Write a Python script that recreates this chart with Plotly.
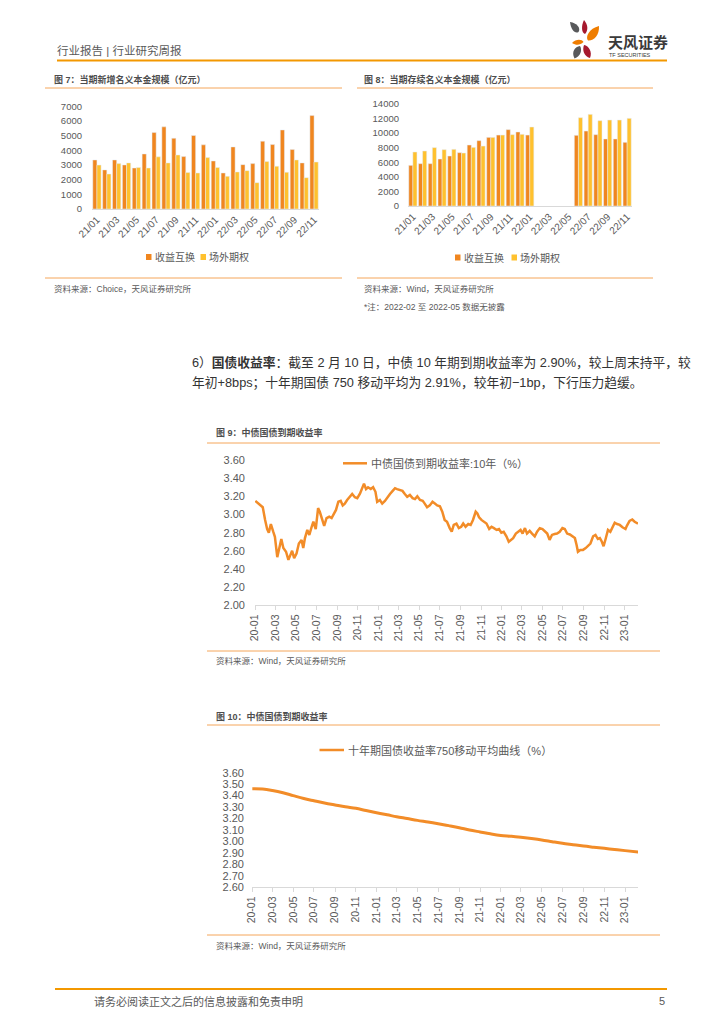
import plotly.graph_objects as go

W, H = 724, 1024
FONT = "Liberation Sans, Noto Sans CJK SC, sans-serif"
GRAY = "#595959"
AXIS = "#D9D9D9"
C_SWAP = "#F0861F"
C_OPT = "#FFC12E"
C_LINE = "#F28C28"
C_RULE = "#F5A65B"
C_HEAD = "#F39800"

# ---------------- data ----------------
months = ["21/01", "21/02", "21/03", "21/04", "21/05", "21/06", "21/07", "21/08",
          "21/09", "21/10", "21/11", "21/12", "22/01", "22/02", "22/03", "22/04",
          "22/05", "22/06", "22/07", "22/08", "22/09", "22/10", "22/11"]
month_ticks = ["21/01", "21/03", "21/05", "21/07", "21/09", "21/11",
               "22/01", "22/03", "22/05", "22/07", "22/09", "22/11"]

swap_new = [3350, 2670, 3350, 3010, 2800, 3760, 5220, 5610, 4830, 3580, 5020, 4380,
            3280, 2460, 4240, 3030, 3100, 4630, 4400, 5400, 4060, 3150, 6380]
option_new = [3000, 2390, 3100, 3150, 2830, 2800, 3560, 3150, 3690, 2490, 2460, 3510,
              2830, 2230, 2530, 2620, 1800, 3240, 2920, 2510, 3350, 2140, 3210]

swap_stock = [5580, 5810, 5810, 6450, 6860, 7320, 8370, 8970, 9420, 9740, 10480, 10160,
              9740, None, None, None, None, 9700, 10290, 9790, 9200, 9200, 8740]
option_stock = [7410, 7550, 8010, 7730, 7780, 7270, 8050, 8230, 9420, 9740, 9790, 9840,
                10840, None, None, None, None, 12120, 12580, 11710, 11800, 11800, 12030]

yield_dates = [
    "2020-01-02", "2020-01-16", "2020-01-24", "2020-01-31", "2020-02-06", "2020-02-11", "2020-02-17", "2020-02-24", "2020-02-29",
    "2020-03-07", "2020-03-13", "2020-03-19", "2020-03-25", "2020-04-02", "2020-04-09", "2020-04-14", "2020-04-20", "2020-04-26",
    "2020-05-03", "2020-05-10", "2020-05-18", "2020-05-23", "2020-05-28", "2020-06-04", "2020-06-10", "2020-06-17", "2020-06-22", "2020-06-29",
    "2020-07-06", "2020-07-11", "2020-07-18", "2020-07-24", "2020-07-31", "2020-08-08", "2020-08-15", "2020-08-22", "2020-08-28",
    "2020-09-04", "2020-09-11", "2020-09-17", "2020-09-23", "2020-09-30", "2020-10-08", "2020-10-15", "2020-10-23", "2020-10-30",
    "2020-11-07", "2020-11-14", "2020-11-19", "2020-11-25", "2020-12-01", "2020-12-09", "2020-12-16", "2020-12-23", "2020-12-28",
    "2021-01-05", "2021-01-12", "2021-01-20", "2021-01-27", "2021-02-04", "2021-02-12", "2021-02-19", "2021-02-25",
    "2021-03-05", "2021-03-13", "2021-03-20", "2021-03-27", "2021-04-04", "2021-04-12", "2021-04-19", "2021-04-26",
    "2021-05-04", "2021-05-12", "2021-05-18", "2021-05-25", "2021-06-02", "2021-06-10", "2021-06-17", "2021-06-24",
    "2021-07-02", "2021-07-09", "2021-07-16", "2021-07-23", "2021-07-31", "2021-08-06", "2021-08-12", "2021-08-20", "2021-08-27",
    "2021-09-03", "2021-09-09", "2021-09-16", "2021-09-24", "2021-10-01", "2021-10-08", "2021-10-16", "2021-10-21", "2021-10-26",
    "2021-11-02", "2021-11-09", "2021-11-17", "2021-11-25", "2021-12-02", "2021-12-09", "2021-12-17", "2021-12-24", "2021-12-31",
    "2022-01-07", "2022-01-15", "2022-01-22", "2022-01-28", "2022-02-04", "2022-02-12", "2022-02-19", "2022-02-26",
    "2022-03-04", "2022-03-11", "2022-03-17", "2022-03-25", "2022-04-01", "2022-04-09", "2022-04-16", "2022-04-24",
    "2022-05-02", "2022-05-09", "2022-05-16", "2022-05-23", "2022-05-30", "2022-06-07", "2022-06-14", "2022-06-22", "2022-06-30",
    "2022-07-07", "2022-07-14", "2022-07-22", "2022-07-29", "2022-08-06", "2022-08-11", "2022-08-15", "2022-08-22", "2022-08-30",
    "2022-09-07", "2022-09-14", "2022-09-21", "2022-09-29", "2022-10-06", "2022-10-13", "2022-10-19", "2022-10-25", "2022-10-30",
    "2022-11-05", "2022-11-12", "2022-11-19", "2022-11-25", "2022-12-02", "2022-12-09", "2022-12-17", "2022-12-25",
    "2023-01-03", "2023-01-07", "2023-01-15", "2023-01-23", "2023-01-30", "2023-02-09"]
yield_10y = [
    3.15, 3.10, 3.08, 2.94, 2.84, 2.80, 2.895, 2.81, 2.755,
    2.53, 2.63, 2.73, 2.63, 2.59, 2.50, 2.555, 2.60, 2.52,
    2.57, 2.68, 2.72, 2.63, 2.74, 2.83, 2.775, 2.865, 2.92, 2.84,
    3.07, 3.03, 2.94, 2.875, 2.96, 2.975, 2.96, 3.01, 3.05,
    3.14, 3.15, 3.10, 3.12, 3.16, 3.20, 3.225, 3.19, 3.18,
    3.23, 3.29, 3.34, 3.28, 3.30, 3.28, 3.30, 3.25, 3.14,
    3.16, 3.12, 3.15, 3.19, 3.225, 3.26, 3.29, 3.28,
    3.27, 3.26, 3.225, 3.195, 3.215, 3.18, 3.17, 3.20,
    3.16, 3.15, 3.12, 3.08, 3.10, 3.14, 3.12, 3.10,
    3.09, 3.03, 2.94, 2.92, 2.85, 2.81, 2.885, 2.90, 2.85,
    2.865, 2.90, 2.865, 2.895, 2.885, 2.94, 3.03, 3.01, 2.97,
    2.94, 2.92, 2.90, 2.84, 2.865, 2.85, 2.83, 2.84, 2.80,
    2.81, 2.76, 2.70, 2.72, 2.74, 2.79, 2.81, 2.83,
    2.79, 2.85, 2.79, 2.82, 2.79, 2.76, 2.81, 2.85,
    2.84, 2.81, 2.79, 2.72, 2.775, 2.785, 2.79, 2.81, 2.85,
    2.84, 2.79, 2.78, 2.76, 2.74, 2.665, 2.59, 2.61, 2.61,
    2.63, 2.65, 2.68, 2.76, 2.775, 2.73, 2.74, 2.70, 2.65,
    2.73, 2.83, 2.81, 2.865, 2.91, 2.895, 2.885, 2.86,
    2.84, 2.875, 2.93, 2.945, 2.92, 2.90]

ma_dates = ["2020-01-02", "2020-02-01", "2020-03-01", "2020-04-01", "2020-05-01", "2020-06-01",
            "2020-07-01", "2020-08-01", "2020-09-01", "2020-10-01", "2020-11-01", "2020-12-01",
            "2021-01-01", "2021-02-01", "2021-03-01", "2021-04-01", "2021-05-01", "2021-06-01",
            "2021-07-01", "2021-08-01", "2021-09-01", "2021-10-01", "2021-11-01", "2021-12-01",
            "2022-01-01", "2022-02-01", "2022-03-01", "2022-04-01", "2022-05-01", "2022-06-01",
            "2022-07-01", "2022-08-01", "2022-09-01", "2022-10-01", "2022-11-01", "2022-12-01",
            "2023-01-01", "2023-02-09"]
ma750 = [3.460, 3.458, 3.445, 3.425, 3.400, 3.375, 3.355, 3.335, 3.318, 3.302, 3.289, 3.270,
         3.251, 3.233, 3.216, 3.200, 3.184, 3.170, 3.155, 3.138, 3.120, 3.100, 3.083, 3.067,
         3.053, 3.045, 3.036, 3.025, 3.013, 2.998, 2.984, 2.972, 2.960, 2.950, 2.940, 2.930,
         2.920, 2.908]


def px(x):
    return x / W


def py(y):
    return 1 - y / H


fig = go.Figure()

# chart 7
fig.add_trace(go.Bar(x=months, y=swap_new, name="收益互换", marker_color=C_SWAP,
                     xaxis="x", yaxis="y", showlegend=False))
fig.add_trace(go.Bar(x=months, y=option_new, name="场外期权", marker_color=C_OPT,
                     xaxis="x", yaxis="y", showlegend=False))
# chart 8
fig.add_trace(go.Bar(x=months, y=swap_stock, name="收益互换", marker_color=C_SWAP,
                     xaxis="x2", yaxis="y2", showlegend=False))
fig.add_trace(go.Bar(x=months, y=option_stock, name="场外期权", marker_color=C_OPT,
                     xaxis="x2", yaxis="y2", showlegend=False))
# chart 9
fig.add_trace(go.Scatter(x=yield_dates, y=yield_10y, mode="lines", name="中债国债到期收益率:10年（%）",
                         line=dict(color=C_LINE, width=2.5), xaxis="x3", yaxis="y3", showlegend=False))
# chart 10
fig.add_trace(go.Scatter(x=ma_dates, y=ma750, mode="lines", line_shape="spline",
                         name="十年期国债收益率750移动平均曲线（%）",
                         line=dict(color=C_LINE, width=3), xaxis="x4", yaxis="y4", showlegend=False))
# page canvas (pixel coordinates)
fig.add_trace(go.Scatter(x=[], y=[], xaxis="x5", yaxis="y5", showlegend=False, hoverinfo="skip"))

tickfont_small = dict(family=FONT, size=9.5, color=GRAY)
tickfont_mid = dict(family=FONT, size=11, color=GRAY)

common_x = dict(showgrid=False, zeroline=False, showline=True, linecolor=AXIS, linewidth=1,
                fixedrange=True, automargin=False)
common_y = dict(showgrid=False, zeroline=False, showline=False, ticks="", fixedrange=True,
                automargin=False)

layout = dict(
    width=W, height=H, margin=dict(l=0, r=0, t=0, b=0, pad=0, autoexpand=False),
    paper_bgcolor="white", plot_bgcolor="rgba(0,0,0,0)",
    barmode="group", bargap=0.16, bargroupgap=0.0,
    showlegend=False, font=dict(family=FONT, color=GRAY),
    xaxis=dict(common_x, domain=[px(92), px(319)], anchor="y", type="category",
               tickmode="array", tickvals=month_ticks, ticktext=month_ticks, tickangle=-45,
               tickfont=dict(family=FONT, size=10, color=GRAY), ticks=""),
    yaxis=dict(common_y, domain=[py(209), py(106.5)], anchor="x", range=[0, 7000], dtick=1000,
               tickformat="d", tickfont=tickfont_small, ticklabelstandoff=9),
    xaxis2=dict(common_x, domain=[px(408), px(632)], anchor="y2", type="category",
                tickmode="array", tickvals=month_ticks, ticktext=month_ticks, tickangle=-45,
                tickfont=dict(family=FONT, size=10, color=GRAY), ticks=""),
    yaxis2=dict(common_y, domain=[py(206), py(104)], anchor="x2", range=[0, 14000], dtick=2000,
                tickformat="d", tickfont=tickfont_small, ticklabelstandoff=8),
    xaxis3=dict(common_x, domain=[px(255), px(638)], anchor="y3", type="date",
                range=["2020-01-01", "2023-02-09"], tick0="2020-01-01", dtick="M2",
                tickformat="%y-%m", tickangle=-90, ticks="outside", ticklen=4, tickcolor=AXIS,
                tickfont=dict(family=FONT, size=10.5, color=GRAY)),
    yaxis3=dict(common_y, domain=[py(605.3), py(460)], anchor="x3", range=[2.0, 3.6], dtick=0.2,
                tickformat=".2f", tickfont=tickfont_mid, ticklabelstandoff=9),
    xaxis4=dict(common_x, domain=[px(252), px(638)], anchor="y4", type="date",
                range=["2020-01-01", "2023-02-08"], tick0="2020-01-01", dtick="M2",
                tickformat="%y-%m", tickangle=-90, ticks="outside", ticklen=4, tickcolor=AXIS,
                tickfont=dict(family=FONT, size=10.5, color=GRAY)),
    yaxis4=dict(common_y, domain=[py(887.3), py(772.7)], anchor="x4", range=[2.6, 3.6], dtick=0.1,
                tickformat=".2f", tickfont=tickfont_mid, ticklabelstandoff=7),
    xaxis5=dict(domain=[0, 1], range=[0, W], visible=False, anchor="y5", fixedrange=True,
                automargin=False),
    yaxis5=dict(domain=[0, 1], range=[H, 0], visible=False, anchor="x5", fixedrange=True,
                automargin=False),
)

shapes = []
annotations = []


def hline(y, x0, x1, color=C_RULE, width=1):
    shapes.append(dict(type="line", xref="x5", yref="y5", x0=x0, x1=x1, y0=y, y1=y,
                       line=dict(color=color, width=width), layer="above"))


def rect(x0, y0, x1, y1, color):
    shapes.append(dict(type="rect", xref="x5", yref="y5", x0=x0, x1=x1, y0=y0, y1=y1,
                       fillcolor=color, line=dict(width=0), layer="above"))


def path(d, color):
    shapes.append(dict(type="path", xref="x5", yref="y5", path=d, fillcolor=color,
                       line=dict(width=0), layer="above"))


def text(x, y, s, size, color=GRAY, anchor="left"):
    annotations.append(dict(xref="x5", yref="y5", x=x, y=y, text=s, showarrow=False,
                            xanchor=anchor, yanchor="middle",
                            font=dict(family=FONT, size=size, color=color)))


# header
text(55, 50, "行业报告 | 行业研究周报", 11.5, "#595959")
hline(60.5, 57, 667, C_HEAD, 2)
# logo
path("M 570 22 C 577 23, 581 28, 578.5 32 C 575 34, 571 30, 570 22 Z", "#58595B")
path("M 584 20 C 588.5 25, 588 31, 585 34 C 581.5 33, 581 26, 584 20 Z", "#A6192E")
path("M 599 26 C 599.5 35, 594 41, 588 40.5 C 585 37, 589 28.5, 599 26 Z", "#EF7D00")
path("M 572 43 C 576 38.5, 582 39, 583.5 42 C 580 45.5, 576 45.5, 572 43 Z", "#EF7D00")
path("M 574.5 58.5 C 571 52, 575 46.5, 580 46 C 582.5 50, 580.5 56.5, 574.5 58.5 Z", "#58595B")
path("M 590 58 C 584 56.5, 582 50, 584 45 C 589 46, 592.5 52, 590 58 Z", "#A6192E")
text(606, 42, "<b>天风证券</b>", 15, "#3A3A3A")
text(607, 55, "TF SECURITIES", 5.5, "#3A3A3A")

# chart 7 frame
text(52, 79, "<b>图 7：当期新增名义本金规模（亿元）</b>", 9, "#4D4D4D")
hline(88, 45, 342)
hline(278, 45, 342)
text(52, 289, "资料来源：Choice，天风证券研究所", 8.5, "#595959")
rect(146, 254, 151.5, 260, C_SWAP)
text(152.5, 257, "收益互换", 10)
rect(200.5, 254, 206, 260, C_OPT)
text(207, 257, "场外期权", 10)

# chart 8 frame
text(362, 79, "<b>图 8：当期存续名义本金规模（亿元）</b>", 9, "#4D4D4D")
hline(88, 357, 653)
hline(278, 357, 653)
text(362, 289, "资料来源：Wind，天风证券研究所", 8.5, "#595959")
text(362, 307, "*注：2022-02 至 2022-05 数据无披露", 8.5, "#595959")
rect(455, 254.5, 460.5, 260.5, C_SWAP)
text(461.5, 257.5, "收益互换", 10)
rect(511.5, 254.5, 517, 260.5, C_OPT)
text(518, 257.5, "场外期权", 10)

# body text
text(190, 362, "6）<b>国债收益率</b>：截至 2 月 10 日，中债 10 年期到期收益率为 2.90%，较上周末持平，较", 12.75, "#333333")
text(190, 383, "年初+8bps；十年期国债 750 移动平均为 2.91%，较年初−1bp，下行压力趋缓。", 12.75, "#333333")

# chart 9 frame
text(214, 432.5, "<b>图 9：中债国债到期收益率</b>", 9, "#4D4D4D")
hline(443, 207, 660)
hline(651, 207, 660)
text(214, 661, "资料来源：Wind，天风证券研究所", 8.5, "#595959")
hline(463.3, 343, 367, C_LINE, 2.5)
text(368.5, 463.3, "中债国债到期收益率:10年（%）", 11)

# chart 10 frame
text(214, 716, "<b>图 10：中债国债到期收益率</b>", 9, "#4D4D4D")
hline(725, 207, 660)
hline(935, 207, 660)
text(214, 946, "资料来源：Wind，天风证券研究所", 8.5, "#595959")
hline(750, 319.5, 344, C_LINE, 2.5)
text(345.5, 750, "十年期国债收益率750移动平均曲线（%）", 11)

# footer
hline(989, 55, 667, C_HEAD, 2)
text(92, 1001, "请务必阅读正文之后的信息披露和免责申明", 11, "#595959")
text(657, 1001, "5", 11, "#595959")

layout["shapes"] = shapes
layout["annotations"] = annotations
fig.update_layout(**layout)

fig.write_html("out.html", config={"displayModeBar": False},
               post_script="document.body.style.margin='0';")
